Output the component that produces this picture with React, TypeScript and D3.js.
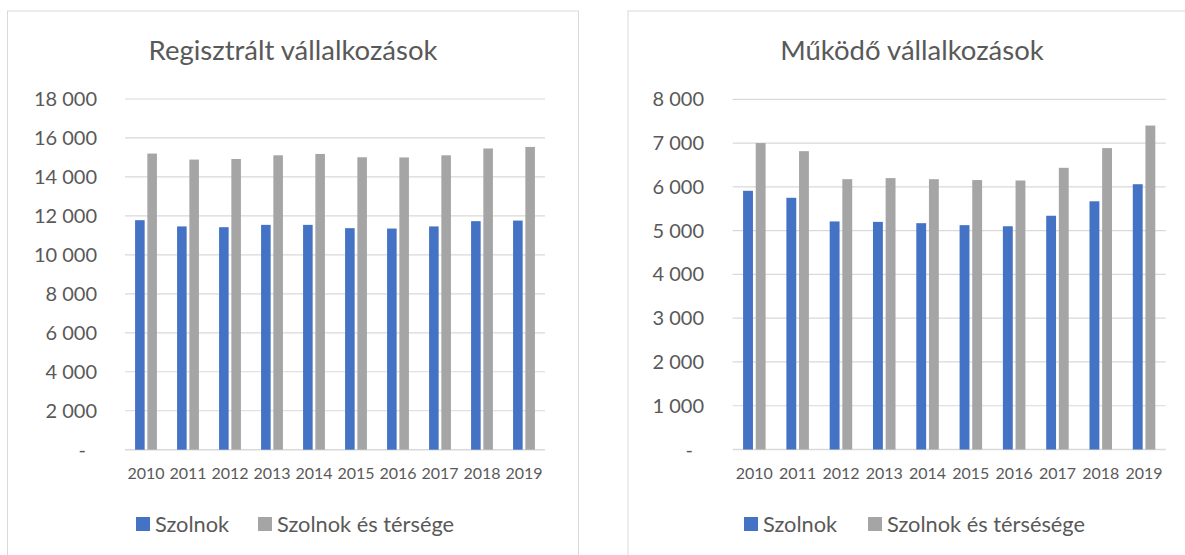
import React from 'react';
import * as d3 from 'd3';

// years on the category axis
const years = ['2010', '2011', '2012', '2013', '2014', '2015', '2016', '2017', '2018', '2019'];

// Regisztrált vállalkozások
const regSzolnok = [11780, 11460, 11420, 11540, 11540, 11370, 11350, 11460, 11730, 11760];
const regTerseg = [15200, 14890, 14920, 15110, 15180, 15010, 15000, 15110, 15460, 15540];
const regTicks = [0, 2000, 4000, 6000, 8000, 10000, 12000, 14000, 16000, 18000];

// Működő vállalkozások
const mukSzolnok = [5910, 5750, 5210, 5200, 5170, 5125, 5100, 5340, 5670, 6060];
const mukTerseg = [7000, 6815, 6175, 6200, 6175, 6155, 6145, 6435, 6885, 7400];
const mukTicks = [0, 1000, 2000, 3000, 4000, 5000, 6000, 7000, 8000];

const seriesKeys = ['a', 'b'];
const colors = { a: '#4472C4', b: '#A5A5A5' };
const textColor = '#595959';
const gridColor = '#D9D9D9';
const font = "Lato, 'Open Sans', sans-serif";

const fmt = (v) => (v === 0 ? '-' : d3.format(',')(v).replace(/,/g, ' '));

const Panel = ({ cfg, title, a, b, ticks, legend }) => {
  const x0 = d3
    .scaleBand()
    .domain(years)
    .range([cfg.plotLeft, cfg.plotRight])
    .paddingInner(0.48)
    .paddingOuter(0.24);
  const x1 = d3.scaleBand().domain(seriesKeys).range([0, x0.bandwidth()]).paddingInner(0.22);
  const y = d3
    .scaleLinear()
    .domain([0, ticks[ticks.length - 1]])
    .range([cfg.plotBottom, cfg.plotTop]);

  const data = years.map((yr, i) => ({ yr, a: a[i], b: b[i] }));

  return (
    <g>
      <rect
        x={cfg.boxLeft}
        y={cfg.boxTop}
        width={cfg.boxRight - cfg.boxLeft}
        height={600}
        fill="#fff"
        stroke={gridColor}
        strokeWidth={1}
      />
      <text
        x={cfg.titleX}
        y={60}
        textAnchor="middle"
        fontSize={27.5}
        fill={textColor}
        fontFamily={font}
      >
        {title}
      </text>
      {ticks.map((t) => (
        <g key={t}>
          <line
            x1={cfg.plotLeft}
            x2={cfg.plotRight}
            y1={y(t)}
            y2={y(t)}
            stroke={gridColor}
            strokeWidth={t === 0 ? 1.5 : 1.2}
          />
          <text
            x={t === 0 ? cfg.labelRight - 11 : cfg.labelRight}
            y={y(t)}
            dy="0.35em"
            textAnchor="end"
            fontSize={20}
            fill={textColor}
            fontFamily={font}
          >
            {fmt(t)}
          </text>
        </g>
      ))}
      {data.map((d) => (
        <g key={d.yr} transform={`translate(${x0(d.yr)},0)`}>
          {seriesKeys.map((k) => (
            <rect
              key={k}
              x={x1(k)}
              y={y(d[k])}
              width={x1.bandwidth()}
              height={y(0) - y(d[k])}
              fill={colors[k]}
            />
          ))}
        </g>
      ))}
      {years.map((yr) => (
        <text
          key={yr}
          x={x0(yr) + x0.bandwidth() / 2}
          y={479}
          textAnchor="middle"
          fontSize={16}
          fill={textColor}
          fontFamily={font}
        >
          {yr}
        </text>
      ))}
      {legend.map((l, i) => (
        <g key={l} transform={`translate(${cfg.legendX[i]},517)`}>
          <rect width={14} height={14} fill={colors[seriesKeys[i]]} />
          <text x={19} y={7} dy="0.35em" fontSize={21.8} fill={textColor} fontFamily={font}>
            {l}
          </text>
        </g>
      ))}
    </g>
  );
};

const leftCfg = {
  boxLeft: 7.5,
  boxRight: 578.5,
  boxTop: 11,
  plotLeft: 125,
  plotRight: 545,
  plotTop: 99,
  plotBottom: 449.7,
  labelRight: 97,
  titleX: 293,
  legendX: [136, 258],
};

const rightCfg = {
  boxLeft: 628,
  boxRight: 1197,
  boxTop: 11,
  plotLeft: 732.7,
  plotRight: 1165.7,
  plotTop: 99.3,
  plotBottom: 449.5,
  labelRight: 704,
  titleX: 912,
  legendX: [744, 868],
};

export default function App() {
  return (
    <svg
      width={1185}
      height={555}
      style={{ position: 'absolute', left: 0, top: 0, background: '#fff' }}
    >
      <Panel
        cfg={leftCfg}
        title="Regisztrált vállalkozások"
        a={regSzolnok}
        b={regTerseg}
        ticks={regTicks}
        legend={['Szolnok', 'Szolnok és térsége']}
      />
      <Panel
        cfg={rightCfg}
        title="Működő vállalkozások"
        a={mukSzolnok}
        b={mukTerseg}
        ticks={mukTicks}
        legend={['Szolnok', 'Szolnok és térsésége']}
      />
    </svg>
  );
}
